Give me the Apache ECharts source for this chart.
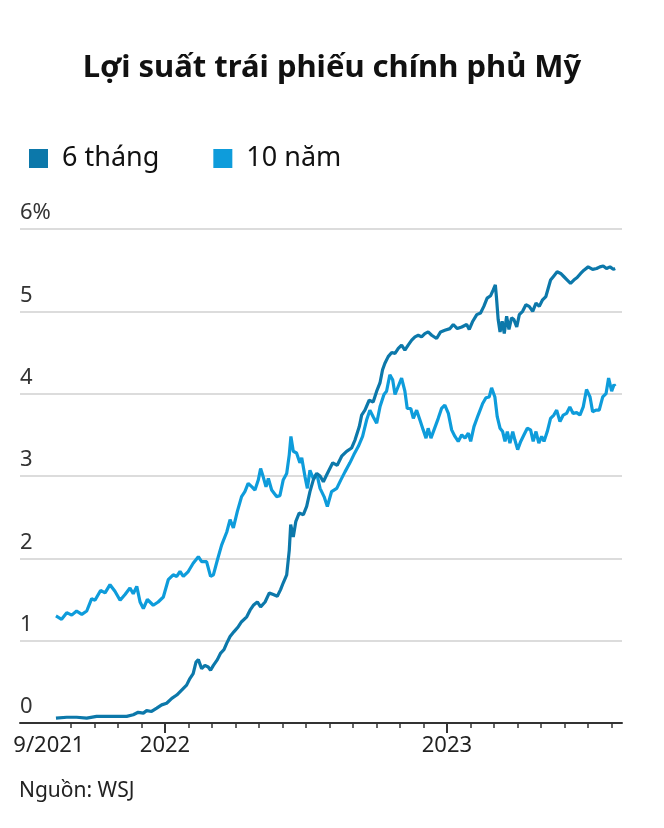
<!DOCTYPE html>
<html>
<head>
<meta charset="utf-8">
<script src="https://cdn.jsdelivr.net/npm/echarts@6/dist/echarts.min.js"></script>
<style>
html,body{margin:0;padding:0;background:#fff;}
#chart{width:664px;height:828px;}
</style>
</head>
<body>
<div id="chart"></div>
<script>
// x values are months since 1 January 2022
const sixMonthX = [-4.64,-4.18,-3.76,-3.33,-2.91,-2.48,-2.06,-1.63,-1.35,-1.14,-0.92,-0.78,-0.57,-0.35,-0.14,0.07,0.29,0.50,0.71,0.92,1.06,1.20,1.32,1.42,1.56,1.70,1.84,1.94,2.06,2.23,2.37,2.51,2.63,2.77,2.94,3.12,3.26,3.48,3.62,3.76,3.93,4.07,4.26,4.44,4.61,4.78,4.92,5.03,5.18,5.29,5.35,5.46,5.57,5.71,5.89,6.03,6.17,6.31,6.46,6.60,6.74,6.91,7.14,7.33,7.52,7.73,7.94,8.09,8.27,8.37,8.51,8.69,8.86,9.01,9.15,9.26,9.36,9.50,9.65,9.79,9.93,10.07,10.21,10.35,10.50,10.64,10.78,10.92,11.06,11.20,11.35,11.56,11.73,11.91,12.13,12.27,12.44,12.63,12.84,12.95,13.10,13.27,13.43,13.57,13.71,13.86,13.97,14.06,14.11,14.18,14.26,14.35,14.44,14.54,14.64,14.75,14.85,14.97,15.08,15.22,15.36,15.50,15.65,15.79,15.93,16.07,16.21,16.31,16.41,16.55,16.69,16.84,16.98,17.12,17.26,17.40,17.54,17.69,17.83,18.01,18.20,18.37,18.51,18.65,18.79,18.94,19.08,19.16];
const sixMonthY = [0.06,0.07,0.07,0.06,0.08,0.08,0.08,0.08,0.10,0.13,0.12,0.15,0.14,0.18,0.22,0.24,0.30,0.34,0.40,0.46,0.54,0.60,0.74,0.77,0.66,0.70,0.68,0.64,0.70,0.77,0.85,0.89,0.97,1.05,1.11,1.17,1.23,1.29,1.37,1.43,1.47,1.41,1.47,1.58,1.56,1.54,1.62,1.70,1.80,2.10,2.41,2.26,2.45,2.55,2.53,2.63,2.81,2.95,3.03,3.00,2.93,3.03,3.16,3.13,3.24,3.30,3.34,3.44,3.60,3.74,3.80,3.92,3.90,4.03,4.13,4.29,4.37,4.45,4.50,4.49,4.55,4.59,4.53,4.59,4.65,4.69,4.71,4.69,4.73,4.75,4.71,4.67,4.75,4.77,4.79,4.84,4.79,4.81,4.84,4.78,4.88,4.96,4.98,5.06,5.16,5.19,5.26,5.32,5.16,4.90,4.75,4.88,4.73,4.94,4.78,4.92,4.90,4.81,4.96,5.00,5.08,5.06,5.00,5.10,5.06,5.14,5.18,5.28,5.38,5.43,5.48,5.46,5.42,5.38,5.34,5.38,5.41,5.46,5.50,5.54,5.51,5.52,5.54,5.55,5.52,5.54,5.51,5.52];

const tenYearX = [-4.64,-4.40,-4.18,-3.97,-3.76,-3.54,-3.33,-3.12,-2.98,-2.74,-2.55,-2.34,-2.13,-1.91,-1.70,-1.49,-1.35,-1.20,-1.06,-0.92,-0.75,-0.50,-0.29,-0.07,0.14,0.35,0.50,0.64,0.78,0.99,1.20,1.42,1.56,1.77,1.94,2.06,2.23,2.41,2.63,2.77,2.91,3.08,3.26,3.40,3.54,3.69,3.83,3.97,4.07,4.18,4.30,4.40,4.54,4.75,4.89,5.03,5.18,5.29,5.36,5.46,5.60,5.74,5.82,5.96,6.06,6.17,6.31,6.46,6.60,6.77,6.91,7.09,7.31,7.48,7.66,7.87,8.04,8.23,8.41,8.58,8.72,8.86,9.01,9.15,9.32,9.43,9.57,9.69,9.79,9.93,10.07,10.21,10.31,10.46,10.57,10.71,10.85,10.99,11.11,11.20,11.32,11.45,11.63,11.77,11.91,12.06,12.20,12.34,12.48,12.63,12.77,12.91,13.01,13.15,13.33,13.52,13.66,13.80,13.90,14.04,14.14,14.26,14.37,14.47,14.57,14.68,14.80,14.89,15.01,15.14,15.28,15.42,15.56,15.67,15.79,15.91,16.03,16.13,16.27,16.41,16.55,16.67,16.81,16.95,17.09,17.23,17.37,17.52,17.66,17.80,17.94,18.09,18.20,18.34,18.48,18.63,18.77,18.88,19.01,19.11,19.16];
const tenYearY = [1.30,1.26,1.34,1.31,1.36,1.32,1.36,1.51,1.49,1.61,1.58,1.68,1.60,1.49,1.56,1.64,1.57,1.66,1.47,1.39,1.50,1.43,1.47,1.53,1.74,1.80,1.78,1.84,1.78,1.84,1.94,2.02,1.96,1.96,1.78,1.80,1.98,2.16,2.32,2.47,2.37,2.57,2.75,2.81,2.91,2.87,2.83,2.95,3.09,2.99,2.87,2.97,2.83,2.75,2.76,2.95,3.03,3.26,3.48,3.30,3.28,3.16,3.22,2.99,2.85,3.07,2.97,3.03,2.85,2.75,2.63,2.81,2.85,2.95,3.05,3.16,3.26,3.36,3.48,3.68,3.80,3.72,3.64,3.84,3.99,4.03,4.23,4.17,3.99,4.09,4.19,4.03,3.82,3.82,3.70,3.80,3.68,3.56,3.46,3.58,3.46,3.56,3.70,3.82,3.86,3.76,3.56,3.48,3.42,3.50,3.46,3.52,3.42,3.60,3.74,3.88,3.95,3.96,4.07,3.96,3.72,3.58,3.54,3.42,3.54,3.40,3.54,3.44,3.32,3.42,3.50,3.58,3.56,3.42,3.54,3.40,3.48,3.42,3.54,3.70,3.74,3.80,3.66,3.74,3.76,3.84,3.76,3.77,3.74,3.84,4.05,3.96,3.78,3.80,3.80,3.96,4.00,4.19,4.03,4.11,4.09];

const seriesNames = ['6 tháng', '10 năm'];
const seriesColors = ['#0c78aa', '#0e9cdb'];
const monthTicks = [-4,-3,-2,-1,0,1,2,3,4,5,6,7,8,9,10,11,12,13,14,15,16,17,18,19];
const yearTicks = [0, 12];
const xLabelValues = [-4.94, 0, 12];
const xLabelTexts = ['9/2021', '2022', '2023'];
const xMin = -6.17, xMax = 19.45;

const zip = (xs, ys) => xs.map((x, i) => [x, ys[i]]);
const FONT = '"Noto Sans", sans-serif';

const chart = echarts.init(document.getElementById('chart'), null, {renderer: 'canvas'});
chart.setOption({
  animation: false,
  backgroundColor: '#fff',
  title: {
    text: 'Lợi suất trái phiếu chính phủ Mỹ',
    left: 'center', top: 48,
    textStyle: {fontFamily: FONT, fontSize: 31, fontWeight: 'bold', color: '#111'}
  },
  legend: {
    data: seriesNames.map(n => ({name: n, icon: 'rect'})),
    left: 24, top: 140,
    itemWidth: 19, itemHeight: 19, itemGap: 54,
    textStyle: {fontFamily: FONT, fontSize: 27, color: '#111', padding: [0, 0, 0, 9]}
  },
  grid: {left: 20, right: 42, top: 229, bottom: 105, containLabel: false},
  xAxis: [{
    type: 'value', min: xMin, max: xMax,
    axisLine: {show: true, lineStyle: {color: '#333', width: 2}},
    axisTick: {show: true, customValues: monthTicks, length: 5, lineStyle: {color: '#333', width: 1.5}},
    axisLabel: {
      customValues: xLabelValues,
      formatter: v => xLabelTexts[xLabelValues.indexOf(v)] ?? '',
      fontFamily: FONT, fontSize: 22, color: '#222', margin: 12
    },
    splitLine: {show: false}
  }, {
    type: 'value', min: xMin, max: xMax, position: 'bottom',
    axisLine: {show: false},
    axisTick: {show: true, customValues: yearTicks, length: 10, lineStyle: {color: '#333', width: 2}},
    axisLabel: {show: false},
    splitLine: {show: false}
  }],
  yAxis: {
    type: 'value', min: 0, max: 6, interval: 1,
    axisLine: {show: false}, axisTick: {show: false},
    axisLabel: {
      inside: true, margin: 0, verticalAlign: 'bottom', padding: [0, 0, 5, 0],
      formatter: v => v === 6 ? '6%' : String(v),
      fontFamily: FONT, fontSize: 22, color: '#333'
    },
    splitLine: {lineStyle: {color: '#dcdcdc', width: 2}}
  },
  series: [{
    name: seriesNames[1], type: 'line', showSymbol: false, xAxisIndex: 0,
    data: zip(tenYearX, tenYearY),
    lineStyle: {color: seriesColors[1], width: 3.2}, itemStyle: {color: seriesColors[1]}
  }, {
    name: seriesNames[0], type: 'line', showSymbol: false, xAxisIndex: 0,
    data: zip(sixMonthX, sixMonthY),
    lineStyle: {color: seriesColors[0], width: 3.2}, itemStyle: {color: seriesColors[0]}
  }],
  graphic: [{
    type: 'text', left: 19, top: 781,
    style: {text: 'Nguồn: WSJ', font: '21px "Noto Sans", sans-serif', fill: '#222'}
  }]
});
</script>
</body>
</html>
